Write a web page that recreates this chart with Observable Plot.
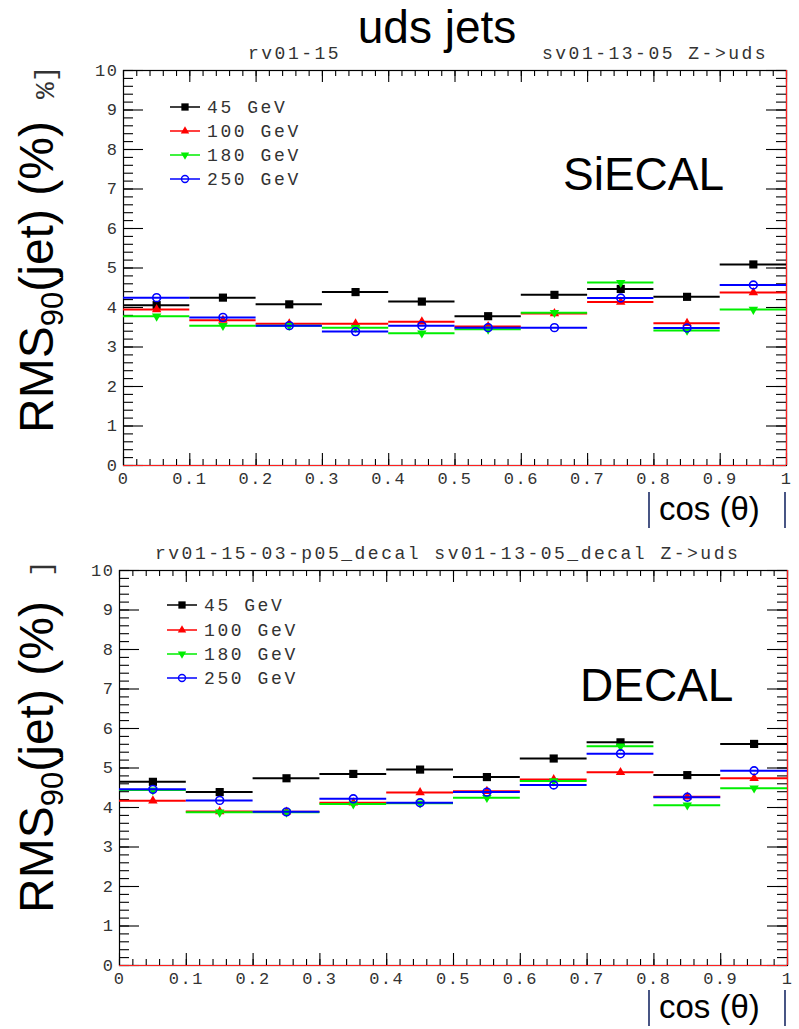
<!DOCTYPE html>
<html><head><meta charset="utf-8">
<script src="https://cdn.jsdelivr.net/npm/d3@7"></script>
<script src="https://cdn.jsdelivr.net/npm/@observablehq/plot@0.6"></script>
<style>
body{margin:0;background:#fff;}
#c{position:relative;width:799px;height:1029px;overflow:hidden;background:#fff;}
#c > svg.plotpanel{position:absolute;left:0;}
#overlay{position:absolute;left:0;top:0;pointer-events:none;}
g[aria-label="x-axis tick label"], g[aria-label="y-axis tick label"]{letter-spacing:1.5px;}
</style></head><body><div id="c"></div>
<script>
// ---- data ----
const binCenters = [0.05,0.15,0.25,0.35,0.45,0.55,0.65,0.75,0.85,0.95];
const binWidth = 0.1;
const energies = ["45 GeV","100 GeV","180 GeV","250 GeV"];
const siecal_45  = [4.06,4.25,4.08,4.39,4.15,3.78,4.32,4.47,4.27,5.09];
const siecal_100 = [3.95,3.68,3.59,3.59,3.64,3.52,3.85,4.14,3.60,4.38];
const siecal_180 = [3.78,3.54,3.54,3.49,3.35,3.45,3.87,4.63,3.42,3.95];
const siecal_250 = [4.25,3.75,3.54,3.39,3.54,3.49,3.49,4.24,3.48,4.57];
const decal_45   = [4.65,4.39,4.74,4.85,4.96,4.77,5.24,5.65,4.82,5.61];
const decal_100  = [4.17,3.90,3.89,4.12,4.38,4.41,4.71,4.89,4.27,4.74];
const decal_180  = [4.44,3.88,3.88,4.09,4.11,4.25,4.67,5.55,4.06,4.49];
const decal_250  = [4.46,4.18,3.89,4.22,4.12,4.39,4.57,5.36,4.26,4.93];
const xTickValues = [0,0.1,0.2,0.3,0.4,0.5,0.6,0.7,0.8,0.9,1];
const xTickLabels = ["0","0.1","0.2","0.3","0.4","0.5","0.6","0.7","0.8","0.9","1"];
const yTickValues = [0,1,2,3,4,5,6,7,8,9,10];
const yTickLabels = ["0","1","2","3","4","5","6","7","8","9","10"];
const xDomain = [0,1];
const yDomain = [0,10];

// ---- styles ----
const sqrt3 = Math.sqrt(3);
const triangleDown = {draw(ctx, size){ const y = -Math.sqrt(size/(sqrt3*3)); ctx.moveTo(0,-y*2); ctx.lineTo(-sqrt3*y, y); ctx.lineTo(sqrt3*y, y); ctx.closePath(); }};
const seriesStyle = [
  {color:"#000000", symbol:"square",   fill:"#000000", r:4.6},
  {color:"#ff0000", symbol:"triangle", fill:"#ff0000", r:3.5},
  {color:"#00ee00", symbol:triangleDown, fill:"#00ee00", r:3.5},
  {color:"#0000ff", symbol:"circle",   fill:"none",    r:3.9}
];

function buildRows(seriesArrays){
  const rows = [];
  seriesArrays.forEach((vals, s) => vals.forEach((v, i) => rows.push({series: s, energy: energies[s], x: binCenters[i], y: v})));
  return rows;
}

const monoFont = "'Liberation Mono','DejaVu Sans Mono',monospace";

function panel({rows, top, height, mL, mR, mT, mB}){
  const fw = 799 - mL - mR, fh = height - mT - mB;
  const [x0, x1] = xDomain, [y0, y1] = yDomain;
  const pxX = (x1 - x0) / fw, pxY = (y1 - y0) / fh;   // data units per pixel
  const xMinor = d3.range(0, 1.0001, 0.02), xMajor = xTickValues;
  const yMinor = d3.range(0, 10.0001, 0.2), yMajor = yTickValues;
  const tk = {stroke:"#000", strokeWidth:1.1};
  const marks = [
    Plot.frame({stroke:"#000", strokeWidth:1.2}),
    // ROOT-style inward ticks on all four sides
    Plot.ruleX(xMajor, {x:d=>d, y1:y0, y2:y0 + 12*pxY, ...tk}),
    Plot.ruleX(xMinor, {x:d=>d, y1:y0, y2:y0 + 6*pxY, ...tk}),
    Plot.ruleX(xMajor, {x:d=>d, y1:y1, y2:y1 - 12*pxY, ...tk}),
    Plot.ruleX(xMinor, {x:d=>d, y1:y1, y2:y1 - 6*pxY, ...tk}),
    Plot.ruleY(yMajor, {y:d=>d, x1:x0, x2:x0 + 20*pxX, ...tk}),
    Plot.ruleY(yMinor, {y:d=>d, x1:x0, x2:x0 + 10*pxX, ...tk}),
    Plot.ruleY(yMajor, {y:d=>d, x1:x1, x2:x1 - 20*pxX, ...tk}),
    Plot.ruleY(yMinor, {y:d=>d, x1:x1, x2:x1 - 10*pxX, ...tk}),
    Plot.ruleY([y0], {stroke:"#ff2020", strokeWidth:1.2}),
    Plot.ruleX([x1], {stroke:"#ff2020", strokeWidth:1.2})
  ];
  seriesStyle.forEach((st, s) => {
    const d = rows.filter(r => r.series === s);
    marks.push(Plot.ruleY(d, {y:"y", x1: r => r.x - binWidth/2, x2: r => r.x + binWidth/2, stroke: st.color, strokeWidth: 2}));
    marks.push(Plot.dot(d, {x:"x", y:"y", symbol: st.symbol, r: st.r, fill: st.fill,
      stroke: st.fill === "none" ? st.color : "none", strokeWidth: 1.6}));
  });
  marks.push(Plot.axisX({ticks: xTickValues, tickSize: 0, tickPadding: 6, label: null,
    tickFormat: v => xTickLabels[xTickValues.indexOf(v)], fontSize: 17, fontFamily: monoFont, fill:"#333"}));
  marks.push(Plot.axisY({ticks: yTickValues, tickSize: 0, tickPadding: 5, label: null,
    tickFormat: v => yTickLabels[yTickValues.indexOf(v)], fontSize: 17, fontFamily: monoFont, fill:"#333"}));
  const svg = Plot.plot({
    width: 799, height, marginLeft: mL, marginRight: mR, marginTop: mT, marginBottom: mB,
    x: {domain: xDomain}, y: {domain: yDomain},
    style: {background: "transparent", overflow: "visible"},
    marks
  });
  svg.classList.add("plotpanel");
  svg.style.top = top + "px";
  return svg;
}

const c = document.getElementById("c");
c.appendChild(panel({rows: buildRows([siecal_45, siecal_100, siecal_180, siecal_250]), top: 0, height: 500, mL: 123, mR: 13, mT: 70, mB: 35}));
c.appendChild(panel({rows: buildRows([decal_45, decal_100, decal_180, decal_250]), top: 520, height: 509, mL: 119, mR: 12, mT: 50, mB: 64}));

// ---- annotation overlay (titles, labels, legends) ----
const ov = d3.select(c).append("svg").attr("id","overlay").attr("width",799).attr("height",1029);
const sans = "'Liberation Sans',Arial,sans-serif";
ov.append("text").attr("x",437).attr("y",43).attr("text-anchor","middle")
  .style("font-family",sans).style("font-size","46px").text("uds jets");
function mono(x, y, str, size=18, ls=2.5){
  return ov.append("text").attr("x",x).attr("y",y).style("font-family",monoFont)
    .style("font-size",size+"px").style("letter-spacing",ls+"px").attr("fill","#333").text(str);
}
mono(248, 59, "rv01-15");
mono(542, 59, "sv01-13-05 Z->uds");
mono(155, 559, "rv01-15-03-p05_decal sv01-13-05_decal Z->uds");

function yTitle(cx, cy){
  const t = ov.append("text").attr("transform",`translate(${cx},${cy}) rotate(-90)`).attr("text-anchor","middle")
    .style("font-family",sans).style("font-size","48px");
  t.append("tspan").text("RMS");
  t.append("tspan").attr("dy",10).style("font-size","31px").text("90");
  t.append("tspan").attr("dy",-10).text("(jet) (%)");
}
yTitle(53, 277);
yTitle(53, 757);
ov.append("text").attr("transform","translate(54,99) rotate(-90)").style("font-family",monoFont)
  .style("font-size","28px").attr("fill","#333").text("%]");
ov.append("text").attr("transform","translate(50,577) rotate(-90)").style("font-family",monoFont)
  .style("font-size","28px").attr("fill","#333").text("]");

ov.append("text").attr("x",563).attr("y",190).style("font-family",sans).style("font-size","46px").text("SiECAL");
ov.append("text").attr("x",580).attr("y",701).style("font-family",sans).style("font-size","46px").text("DECAL");

function xTitle(y){
  ov.append("line").attr("x1",649).attr("x2",649).attr("y1",y-28).attr("y2",y+8).attr("stroke","#1b2b66").attr("stroke-width",1.6);
  ov.append("text").attr("x",659).attr("y",y).style("font-family",sans).style("font-size","33px").text("cos (θ)");
  ov.append("line").attr("x1",785).attr("x2",785).attr("y1",y-28).attr("y2",y+8).attr("stroke","#1b2b66").attr("stroke-width",1.6);
}
xTitle(520);
xTitle(1018);

function legend(x0, rowsY){
  energies.forEach((label, s) => {
    const st = seriesStyle[s], y = rowsY[s];
    ov.append("line").attr("x1",x0).attr("x2",x0+30).attr("y1",y).attr("y2",y).attr("stroke",st.color).attr("stroke-width",1.5);
    const type = st.symbol === "square" ? d3.symbolSquare : st.symbol === "triangle" ? d3.symbolTriangle : st.symbol === "circle" ? d3.symbolCircle : triangleDown;
    ov.append("path").attr("transform",`translate(${x0+15},${y})`)
      .attr("d", d3.symbol().type(type).size(Math.PI*st.r*st.r*0.8)())
      .attr("fill", st.fill).attr("stroke", st.fill === "none" ? st.color : "none").attr("stroke-width",1.4);
    mono(x0+37, y+6, label, 18, 2.6);
  });
}
legend(170, [107,131,155,179]);
legend(167, [605,630,654,678]);
</script></body></html>
